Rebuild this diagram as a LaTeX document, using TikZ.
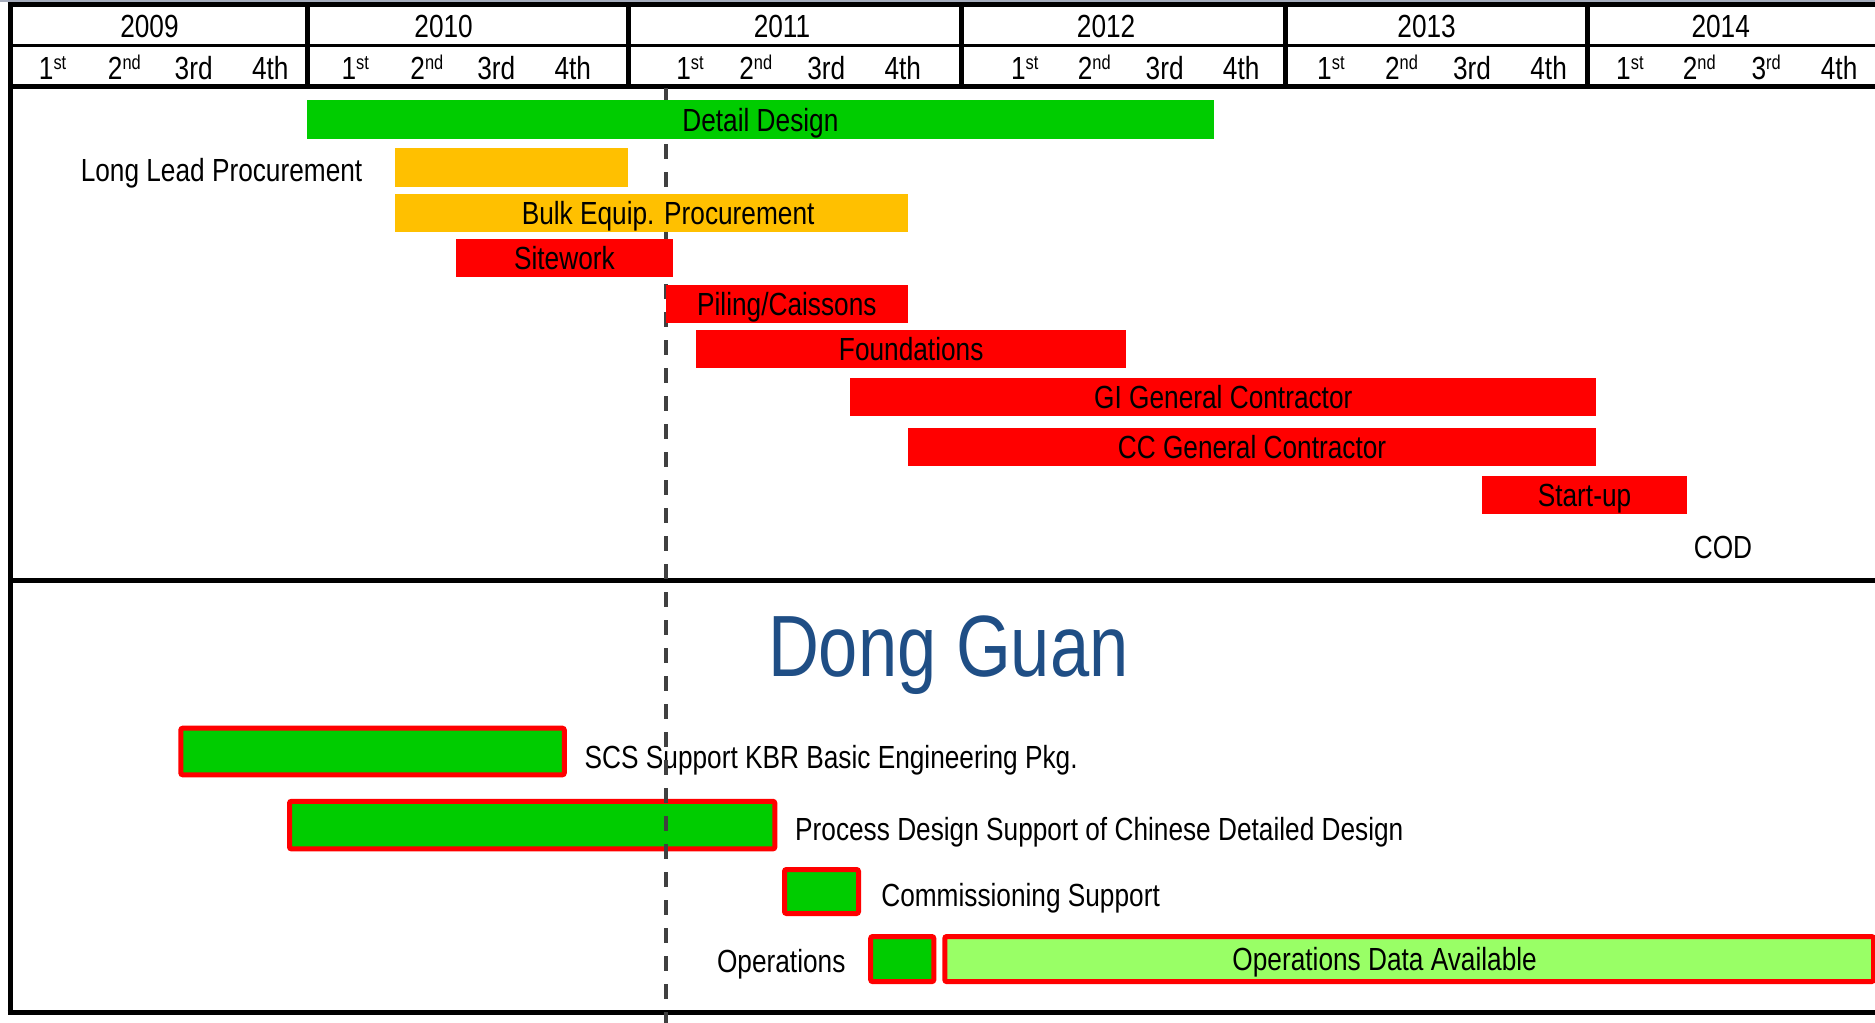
\documentclass[tikz,border=0pt]{standalone}
\usepackage{fontspec}
\setmainfont{Liberation Sans}[FakeStretch=0.82]
\newfontfamily\dgfont{Liberation Sans}[FakeStretch=0.81]
\newcommand\qsup[1]{\raisebox{10pt}{\fontsize{20}{20}\selectfont #1}}
\definecolor{bargreen}{RGB}{0,204,0}
\definecolor{barorange}{RGB}{255,192,0}
\definecolor{barred}{RGB}{255,0,0}
\definecolor{lightgreen}{RGB}{153,255,102}
\definecolor{dgblue}{RGB}{31,78,133}
\definecolor{dashgrey}{RGB}{64,64,64}
\begin{document}
\begin{tikzpicture}[x=1pt,y=-1pt,
  txt/.style={inner sep=0pt, outer sep=0pt, text height=23pt, text depth=0pt, font=\fontsize{32}{38}\selectfont},
  bar/.style={txt, draw=none, minimum height=38.3pt},
  gbar/.style={txt, draw=barred, line width=5pt, rounded corners=2pt, fill=bargreen},
  frameline/.style={line width=5pt, black},
  thinline/.style={line width=3pt, black},
  todayline/.style={line width=3.5pt, dashgrey, dash pattern=on 15pt off 13pt},
]
\useasboundingbox (0,0) rectangle (1875,1023);
\fill[white] (0,0) rectangle (1875,1023);
\draw[line width=1.5pt, color={rgb,255:red,165;green,172;blue,188}] (0,0.75) -- (1875,0.75);

% ---------- header ----------
\draw[frameline] (7.5,4.5) -- (1875,4.5);
\draw[thinline] (10,45) -- (1875,45);
\draw[frameline] (10,86) -- (1875,86);
\foreach \xx in {307,628.5,961.5,1285,1587.5}
  \draw[frameline] (\xx,4.5) -- (\xx,86);
\draw[frameline] (10,2) -- (10,1014.5);
\draw[frameline] (10,580) -- (1875,580);
\draw[frameline] (7.5,1012) -- (1875,1012);

\node[txt] (y2009) at (149.5,26.3) {2009};
\node[txt] (y2010) at (443.6,26.3) {2010};
\node[txt] (y2011) at (782,26.3) {2011};
\node[txt] (y2012) at (1106.1,26.3) {2012};
\node[txt] (y2013) at (1426.6,26.3) {2013};
\node[txt] (y2014) at (1720.7,26.3) {2014};

% quarters
\node[txt] (q09a) at (52.6,68.2) {1\qsup{st}};
\node[txt] (q09b) at (124.4,68.2) {2\qsup{nd}};
\node[txt] (q09c) at (193.7,68.2) {3rd};
\node[txt] (q09d) at (270.3,68.2) {4th};
\node[txt] (q10a) at (355.2,68.2) {1\qsup{st}};
\node[txt] (q10b) at (426.9,68.2) {2\qsup{nd}};
\node[txt] (q10c) at (496.3,68.2) {3rd};
\node[txt] (q10d) at (572.8,68.2) {4th};
\node[txt] (q11a) at (690,68.2) {1\qsup{st}};
\node[txt] (q11b) at (755.7,68.2) {2\qsup{nd}};
\node[txt] (q11c) at (826.3,68.2) {3rd};
\node[txt] (q11d) at (902.8,68.2) {4th};
\node[txt] (q12a) at (1024.8,68.2) {1\qsup{st}};
\node[txt] (q12b) at (1094.2,68.2) {2\qsup{nd}};
\node[txt] (q12c) at (1164.7,68.2) {3rd};
\node[txt] (q12d) at (1241.2,68.2) {4th};
\node[txt] (q13a) at (1330.9,68.2) {1\qsup{st}};
\node[txt] (q13b) at (1401.5,68.2) {2\qsup{nd}};
\node[txt] (q13c) at (1472,68.2) {3rd};
\node[txt] (q13d) at (1548.6,68.2) {4th};
\node[txt] (q14a) at (1629.9,68.2) {1\qsup{st}};
\node[txt] (q14b) at (1699.2,68.2) {2\qsup{nd}};
\node[txt] (q14c) at (1766.2,68.2) {3\qsup{rd}};
\node[txt] (q14d) at (1839.1,68.2) {4th};

% ---------- bottom section ----------
\node[txt, text=dgblue, font=\dgfont\fontsize{87}{92}\selectfont, text height=62pt] (dg) at (948.3,645.7) {Dong Guan};

\node[gbar, minimum width=383.5pt, minimum height=46.6pt] (scs) at (372.55,751.5) {};
\node[txt, anchor=west] (scsl) at (584.7,757) {SCS Support KBR Basic Engineering Pkg.};
\node[gbar, minimum width=485.3pt, minimum height=47.6pt] (pds) at (532.15,825.1) {};
\node[txt, anchor=west] (pdsl) at (795.2,828.7) {Process Design Support of Chinese Detailed Design};
\node[gbar, minimum width=74pt, minimum height=44pt] (cs) at (821.5,891.5) {};
\node[txt, anchor=west] (csl) at (881.3,894.5) {Commissioning Support};
\node[txt, anchor=east] (opl) at (845.4,961.4) {Operations};
\node[gbar, minimum width=63.1pt, minimum height=45.1pt] (ops) at (902.25,959.05) {};
\node[gbar, fill=lightgreen, minimum width=928.7pt, minimum height=45.1pt] (opd) at (1409.15,959.05) {Operations Data Available\kern49pt\relax};

% ---------- today line ----------
\coordinate (today1) at (666,88);
\coordinate (today2) at (666,1023);
\draw[todayline] (today1) -- (today2);

% ---------- top bars ----------
\node[bar, fill=bargreen, minimum width=906.8pt] (dd) at (760.4,119.6) {Detail Design};
\node[txt, anchor=east] (llpl) at (362.3,169.8) {Long Lead Procurement};
\node[bar, fill=barorange, minimum width=233.2pt] (llp) at (511.2,167.4) {};
\node[bar, fill=barorange, minimum width=513pt] (bep) at (651.1,212.9) {\hspace{34pt}Bulk Equip. Procurement};
\node[bar, fill=barred, minimum width=217.6pt] (sw) at (564.4,258.3) {Sitework};
\node[bar, fill=barred, minimum width=241.6pt] (pc) at (786.8,303.8) {Piling/Caissons};
\node[bar, fill=barred, minimum width=430.4pt] (fd) at (911.2,349.2) {Foundations};
\node[bar, fill=barred, minimum width=746.2pt] (gi) at (1223.3,397) {GI General Contractor};
\node[bar, fill=barred, minimum width=688.8pt] (cc) at (1252,447.3) {CC General Contractor};
\node[bar, fill=barred, minimum width=205.7pt] (su) at (1584.5,495) {Start-up};
\node[txt] (cod) at (1723,547) {COD};
\end{tikzpicture}
\end{document}
